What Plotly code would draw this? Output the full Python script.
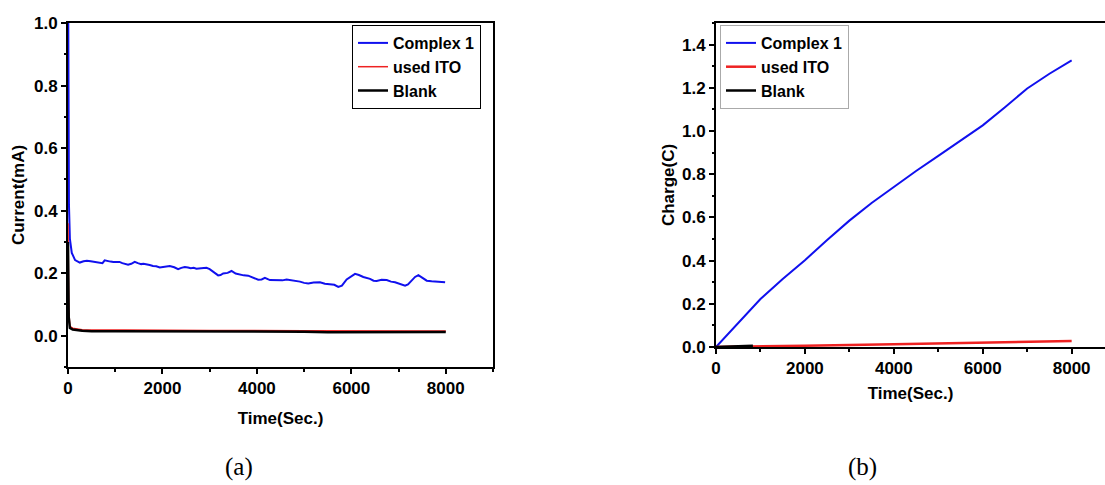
import plotly.graph_objects as go

# ---- Panel (a): current vs time ----
t_c1 = [0, 10, 20, 40, 80, 150, 250, 330, 400, 480, 550, 620, 670, 730, 777, 840, 900, 960, 1025, 1090,
        1150, 1210, 1272, 1340, 1413, 1480, 1550, 1600, 1660, 1730, 1800, 1870, 1943, 2050, 2155, 2250,
        2332, 2400, 2473, 2540, 2600, 2660, 2720, 2820, 2933, 3000, 3050, 3120, 3180, 3230, 3286, 3380,
        3463, 3550, 3640, 3720, 3816, 3900, 4028, 4100, 4170, 4276, 4360, 4450, 4540, 4629, 4750, 4912,
        5000, 5088, 5200, 5336, 5440, 5548, 5640, 5724, 5800, 5901, 6000, 6078, 6160, 6254, 6396, 6470,
        6537, 6640, 6749, 6840, 6926, 7030, 7138, 7200, 7279, 7350, 7420, 7500, 7597, 7700, 7809, 7900, 7986]
i_c1 = [1.25, 0.62, 0.42, 0.31, 0.265, 0.242, 0.234, 0.238, 0.24, 0.238, 0.236, 0.234, 0.235, 0.232, 0.241,
        0.238, 0.237, 0.236, 0.235, 0.236, 0.232, 0.229, 0.227, 0.230, 0.236, 0.232, 0.229, 0.230, 0.227,
        0.226, 0.223, 0.222, 0.218, 0.220, 0.223, 0.219, 0.213, 0.217, 0.220, 0.218, 0.216, 0.217, 0.214,
        0.216, 0.217, 0.213, 0.207, 0.200, 0.193, 0.194, 0.199, 0.201, 0.207, 0.199, 0.195, 0.193, 0.192,
        0.186, 0.179, 0.180, 0.185, 0.178, 0.177, 0.178, 0.177, 0.180, 0.178, 0.173, 0.169, 0.167, 0.170,
        0.171, 0.166, 0.165, 0.163, 0.156, 0.160, 0.180, 0.191, 0.198, 0.194, 0.188, 0.182, 0.176, 0.175,
        0.179, 0.178, 0.173, 0.171, 0.165, 0.160, 0.164, 0.178, 0.188, 0.194, 0.185, 0.176, 0.174, 0.173,
        0.172, 0.171]

t_ito = [0, 15, 40, 100, 300, 1000, 3000, 5000, 7000, 8000]
i_ito = [0.36, 0.08, 0.03, 0.024, 0.019, 0.018, 0.017, 0.016, 0.016, 0.015]

t_blank = [0, 15, 40, 100, 300, 500, 1000, 3000, 5000, 5500, 7000, 8000]
i_blank = [0.30, 0.06, 0.025, 0.02, 0.016, 0.014, 0.014, 0.014, 0.013, 0.011, 0.012, 0.012]

# ---- Panel (b): charge vs time ----
t_q_c1 = [0, 500, 1000, 1500, 2000, 2500, 3000, 3500, 4000, 4500, 5000, 5500, 6000, 6500, 7000, 7500, 8000]
q_c1 = [0.0, 0.112, 0.222, 0.315, 0.402, 0.495, 0.585, 0.667, 0.743, 0.815, 0.885, 0.955, 1.026,
        1.110, 1.197, 1.265, 1.327]

t_q_ito = [0, 840, 2000, 4000, 6000, 8000]
q_ito = [0.0, 0.002, 0.006, 0.013, 0.020, 0.028]

t_q_blank = [0, 400, 830]
q_blank = [0.0, 0.003, 0.006]

names = ["Complex 1", "used ITO", "Blank"]
colors = ["#1010ee", "#ee2222", "#000000"]

W, H = 1105, 485
def px(x):
    return x / W
def py(y):
    return 1 - y / H

fig = go.Figure()
fig.add_trace(go.Scatter(x=t_c1, y=i_c1, mode="lines", name=names[0],
                         line=dict(color=colors[0], width=2), xaxis="x", yaxis="y", legend="legend"))
fig.add_trace(go.Scatter(x=t_ito, y=i_ito, mode="lines", name=names[1],
                         line=dict(color=colors[1], width=1.5), xaxis="x", yaxis="y", legend="legend"))
fig.add_trace(go.Scatter(x=t_blank, y=i_blank, mode="lines", name=names[2],
                         line=dict(color=colors[2], width=2.5), xaxis="x", yaxis="y", legend="legend"))

fig.add_trace(go.Scatter(x=t_q_c1, y=q_c1, mode="lines", name=names[0],
                         line=dict(color=colors[0], width=2), xaxis="x2", yaxis="y2", legend="legend2"))
fig.add_trace(go.Scatter(x=t_q_ito, y=q_ito, mode="lines", name=names[1],
                         line=dict(color=colors[1], width=2.5), xaxis="x2", yaxis="y2", legend="legend2"))
fig.add_trace(go.Scatter(x=t_q_blank, y=q_blank, mode="lines", name=names[2],
                         line=dict(color=colors[2], width=2.5), xaxis="x2", yaxis="y2", legend="legend2"))

FONT = "Liberation Sans, Arial"
tickfont = dict(family=FONT, size=17, color="black", weight="bold")
titlefont = dict(family=FONT, size=17, color="black", weight="bold")

common = dict(showgrid=False, zeroline=False, showline=True, linecolor="black", linewidth=2,
              ticks="outside", ticklen=5, tickwidth=1.5, tickcolor="black", tickfont=tickfont,
              automargin=False)
minor_x = dict(dtick=1000, ticks="outside", ticklen=3, tickwidth=1.5, tickcolor="black")
minor_y = dict(dtick=0.1, ticks="outside", ticklen=2, tickwidth=1.5, tickcolor="black")

fig.update_layout(
    width=W, height=H,
    margin=dict(l=0, r=0, t=0, b=0, autoexpand=False),
    paper_bgcolor="white", plot_bgcolor="white",
    xaxis=dict(domain=[px(68), px(493)], range=[0, 9000], tick0=0, dtick=2000, mirror=True,
               minor=minor_x, title=dict(text="Time(Sec.)", font=titlefont, standoff=15),
               anchor="y", **common),
    yaxis=dict(domain=[py(367), py(23)], range=[-0.1, 1.0], tick0=0, dtick=0.2, tickformat=".1f",
               mirror=True, minor=minor_y,
               title=dict(text="Current(mA)", font=titlefont, standoff=5), anchor="x", **common),
    xaxis2=dict(domain=[px(716), 1.0], range=[0, 8750], tick0=0, dtick=2000, mirror=True,
                minor=minor_x, title=dict(text="Time(Sec.)", font=titlefont, standoff=10),
                anchor="y2", **common),
    yaxis2=dict(domain=[py(347), py(23)], range=[0, 1.5], tick0=0, dtick=0.2, tickformat=".1f",
                mirror=False, minor=minor_y,
                title=dict(text="Charge(C)", font=titlefont, standoff=3), anchor="x2", **common),
    legend=dict(x=px(352), y=py(25), xanchor="left", yanchor="top", bgcolor="white",
                bordercolor="black", borderwidth=1, tracegroupgap=0, entrywidth=132,
                font=dict(family=FONT, size=16, color="black", weight="bold")),
    legend2=dict(x=px(720), y=py(25), xanchor="left", yanchor="top", bgcolor="white",
                 bordercolor="#aaaaaa", borderwidth=1, tracegroupgap=0, entrywidth=124,
                 font=dict(family=FONT, size=16, color="black", weight="bold")),
    annotations=[
        dict(text="(a)", x=px(239), y=py(467), xref="paper", yref="paper", showarrow=False,
             xanchor="center", yanchor="middle",
             font=dict(family="Liberation Serif, Times New Roman", size=25, color="black")),
        dict(text="(b)", x=px(862), y=py(467), xref="paper", yref="paper", showarrow=False,
             xanchor="center", yanchor="middle",
             font=dict(family="Liberation Serif, Times New Roman", size=25, color="black")),
    ],
)

fig.write_html("out.html", config={"displayModeBar": False},
               post_script="document.body.style.margin='0';document.body.style.padding='0';")
